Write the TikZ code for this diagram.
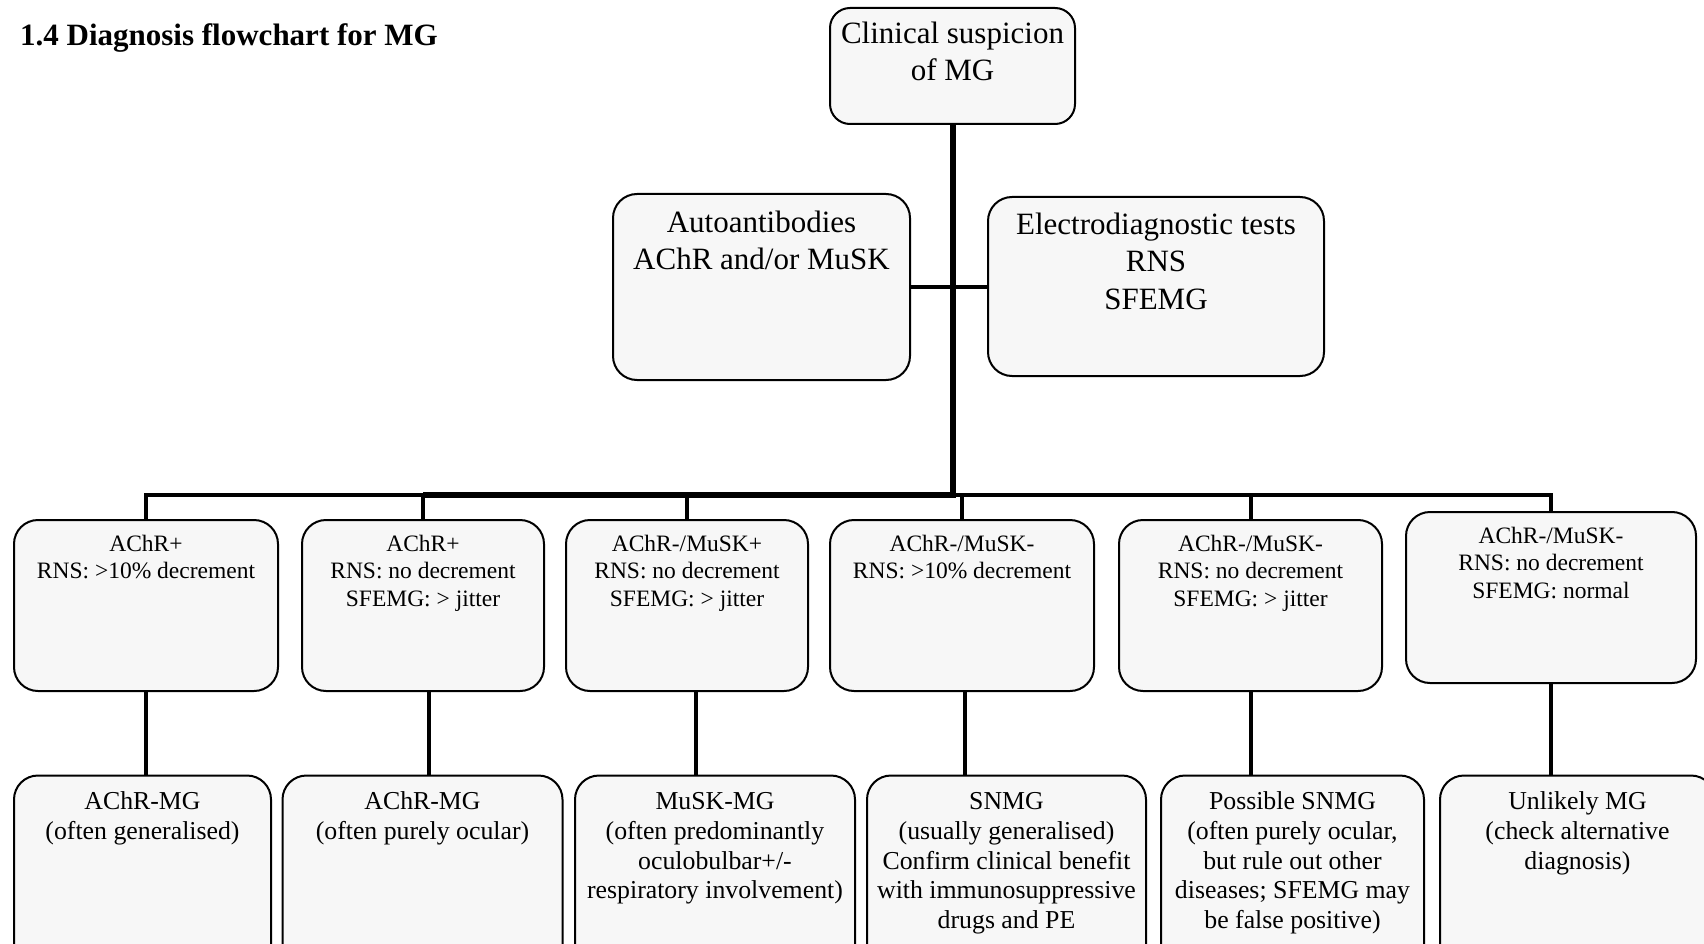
\documentclass[tikz,border=0pt]{standalone}
\usepackage{fontspec}
\setmainfont{Liberation Serif}
\definecolor{boxfill}{RGB}{247,247,247}
\tikzset{
  box/.style={draw=black, line width=2pt, fill=boxfill, rounded corners=24pt, inner sep=0pt, anchor=north west},
  tbig/.style={anchor=north, align=center, inner sep=0pt, font=\fontsize{31}{37.3}\selectfont},
  tone/.style={anchor=north, align=center, inner sep=0pt, font=\fontsize{23.5}{27.5}\selectfont},
  ttwo/.style={anchor=north, align=center, inner sep=0pt, font=\fontsize{25.8}{29.7}\selectfont},
  conn/.style={line width=4pt, draw=black},
  trunk/.style={line width=6pt, draw=black},
}
\begin{document}
\begin{tikzpicture}[x=1pt, y=-1pt]
\useasboundingbox (0,0) rectangle (1704,944);
\clip (0,0) rectangle (1704,944);
\fill[white] (0,0) rectangle (1704,944);

\node[anchor=base west, inner sep=0pt, font=\bfseries\fontsize{31}{37}\selectfont] (title) at (20,46) {1.4 Diagnosis flowchart for MG};

% top boxes
\node[box, rounded corners=20pt, minimum width=245pt, minimum height=116pt] (clin) at (829,7) {};
\node[tbig] (clint) at ([yshift=-9.8pt]clin.north) {\strut Clinical suspicion\\of MG};

\node[box, minimum width=297pt, minimum height=186pt] (auto) at (612,193) {};
\node[tbig] (autot) at ([yshift=-13.3pt]auto.north) {\strut Autoantibodies\\AChR and/or MuSK};

\node[box, minimum width=336pt, minimum height=179pt] (elec) at (987,196) {};
\node[tbig] (elect) at ([yshift=-12.2pt]elec.north) {\strut Electrodiagnostic tests\\RNS\\SFEMG};

% row 1
\node[box, minimum width=264pt, minimum height=171pt] (r1a) at (13,519) {};
\node[tone] (r1at) at ([yshift=-12.8pt]r1a.north) {\strut AChR+\\RNS: >10\% decrement};
\node[box, minimum width=242pt, minimum height=171pt] (r1b) at (301,519) {};
\node[tone] (r1bt) at ([yshift=-12.8pt]r1b.north) {\strut AChR+\\RNS: no decrement\\SFEMG: > jitter};
\node[box, minimum width=242pt, minimum height=171pt] (r1c) at (565,519) {};
\node[tone] (r1ct) at ([yshift=-12.8pt]r1c.north) {\strut AChR-/MuSK+\\RNS: no decrement\\SFEMG: > jitter};
\node[box, minimum width=264pt, minimum height=171pt] (r1d) at (829,519) {};
\node[tone] (r1dt) at ([yshift=-12.8pt]r1d.north) {\strut AChR-/MuSK-\\RNS: >10\% decrement};
\node[box, minimum width=263pt, minimum height=171pt] (r1e) at (1118,519) {};
\node[tone] (r1et) at ([yshift=-12.8pt]r1e.north) {\strut AChR-/MuSK-\\RNS: no decrement\\SFEMG: > jitter};
\node[box, minimum width=290pt, minimum height=171pt] (r1f) at (1405,511) {};
\node[tone] (r1ft) at ([yshift=-12.8pt]r1f.north) {\strut AChR-/MuSK-\\RNS: no decrement\\SFEMG: normal};

% row 2
\node[box, minimum width=257pt, minimum height=200pt] (r2a) at (13,774.5) {};
\node[ttwo] (r2at) at ([yshift=-14.2pt]r2a.north) {\strut AChR-MG\\(often generalised)};
\node[box, minimum width=280pt, minimum height=200pt] (r2b) at (281.5,774.5) {};
\node[ttwo] (r2bt) at ([yshift=-14.2pt]r2b.north) {\strut AChR-MG\\(often purely ocular)};
\node[box, minimum width=280pt, minimum height=200pt] (r2c) at (574,774.5) {};
\node[ttwo] (r2ct) at ([yshift=-14.2pt]r2c.north) {\strut MuSK-MG\\(often predominantly\\oculobulbar+/-\\respiratory involvement)};
\node[box, minimum width=279pt, minimum height=200pt] (r2d) at (866,774.5) {};
\node[ttwo] (r2dt) at ([yshift=-14.2pt]r2d.north) {\strut SNMG\\(usually generalised)\\Confirm clinical benefit\\with immunosuppressive\\drugs and PE};
\node[box, minimum width=263pt, minimum height=200pt] (r2e) at (1160,774.5) {};
\node[ttwo] (r2et) at ([yshift=-14.2pt]r2e.north) {\strut Possible SNMG\\(often purely ocular,\\but rule out other\\diseases; SFEMG may\\be false positive)};
\node[box, minimum width=275pt, minimum height=200pt] (r2f) at (1439,774.5) {};
\node[ttwo] (r2ft) at ([yshift=-14.2pt]r2f.north) {\strut Unlikely MG\\(check alternative\\diagnosis)};

% connectors
\coordinate (bus) at (0,495);
\draw[trunk] (clin.south) -- (clin.south |- bus);
\draw[conn] (auto.east) -- (auto.east -| clin.south);
\draw[conn] (elec.west) -- (elec.west -| clin.south);
\draw[conn] (r1a.north) -- (r1a.north |- bus) -- (r1b.north |- bus);
\draw[trunk] (r1b.north |- bus) -- ([xshift=3pt]clin.south |- bus);
\draw[conn] (clin.south |- bus) -- (r1f.north |- bus) -- (r1f.north);
\draw[conn, line width=4.5pt] (r1b.north) -- (r1b.north |- bus);
\draw[conn, line width=4.5pt] (r1c.north) -- (r1c.north |- bus);
\draw[conn, line width=4.5pt] (r1d.north) -- (r1d.north |- bus);
\draw[conn] (r1e.north) -- (r1e.north |- bus);

\draw[conn] (r1a.south) -- (r1a.south |- r2a.north);
\draw[conn] ([xshift=6pt]r1b.south) -- ([xshift=6pt]r1b.south |- r2b.north);
\draw[conn] ([xshift=9pt]r1c.south) -- ([xshift=9pt]r1c.south |- r2c.north);
\draw[conn] ([xshift=3pt]r1d.south) -- ([xshift=3pt]r1d.south |- r2d.north);
\draw[conn] (r1e.south) -- (r1e.south |- r2e.north);
\draw[conn] (r1f.south) -- (r1f.south |- r2f.north);
\end{tikzpicture}
\end{document}
